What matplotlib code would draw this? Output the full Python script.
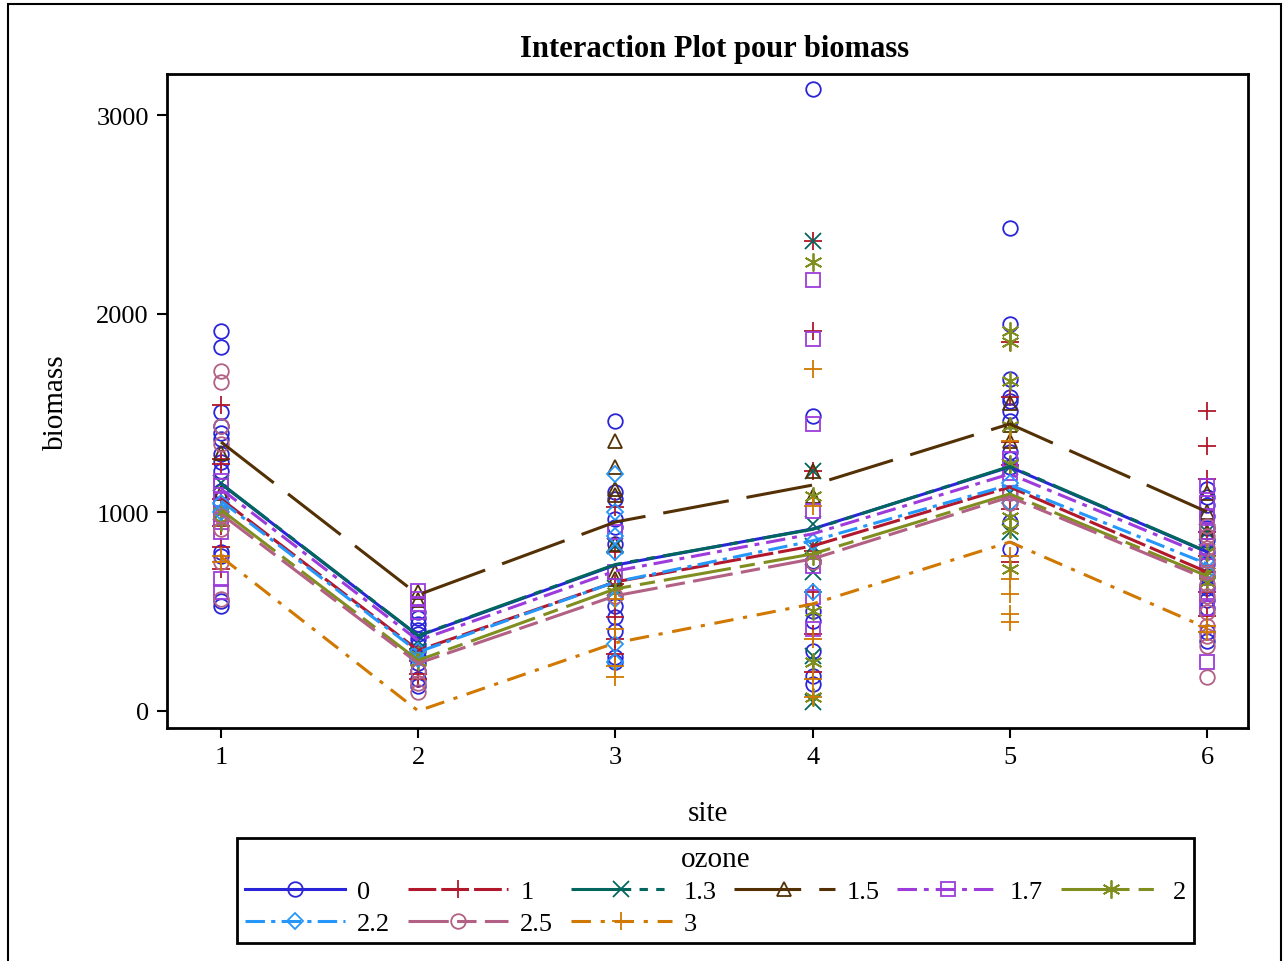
import numpy as np
import matplotlib
matplotlib.use("Agg")
from matplotlib import pyplot as plt
from matplotlib.patches import Rectangle

plt.rcParams['font.family'] = ['Liberation Serif', 'DejaVu Serif']
plt.rcParams['lines.scale_dashes'] = False

sites = [1, 2, 3, 4, 5, 6]
ozone = ["0", "1", "1.3", "1.5", "1.7", "2", "2.2", "2.5", "3"]

# raw observations, one list per site
obs_0 = [[1914, 1834, 1506, 1436, 1400, 1370, 1295, 1254, 1209, 1108, 801, 780, 554, 529],
         [499, 470, 440, 410, 390, 360, 330, 300, 270, 240, 200, 160, 126],
         [1461, 1103, 1068, 967, 927, 841, 529, 474, 403, 272, 247],
         [3134, 1486, 756, 504, 453, 302, 176, 136],
         [2433, 1950, 1672, 1582, 1562, 1511, 1461, 1305, 1270, 1230, 952, 816],
         [1120, 1080, 1040, 980, 920, 860, 800, 740, 680, 620, 560, 520, 400, 350]]
obs_1 = [[1541, 1270, 1244, 1068, 932, 826, 715],
         [312, 250, 186, 161],
         [1028, 801, 640, 474, 363, 287],
         [2368, 1914, 1209, 806, 600, 388, 196],
         [1859, 1580, 1355, 1240, 1018, 750],
         [1511, 1335, 1169, 900, 780, 700, 600, 480]]
obs_13 = [[1150, 1000], [350, 300], [830, 620],
          [2368, 1209, 942, 831, 700, 277, 45],
          [1230, 1100, 900], [900, 800]]
obs_15 = [[1300, 1100], [600, 560],
          [1360, 1229, 1118, 1090, 841, 700, 665],
          [1209, 1083], [1550, 1440, 1360], [1100, 1000, 900]]
obs_17 = [[1160, 1133, 1068, 1030, 990, 950, 902, 665, 600],
          [605, 564, 539, 500], [900, 700],
          [2171, 1874, 1446, 1008, 730, 574, 413],
          [1270, 1200, 1100],
          [1133, 1050, 980, 900, 800, 700, 600, 520, 247]]
obs_2 = [[1000, 950], [280, 250], [600],
         [2262, 1083, 781, 504, 247, 71],
         [1914, 1859, 1662, 1436, 1244, 977, 917, 715],
         [800, 700, 650]]
obs_22 = [[1050, 1000], [300, 260],
          [1194, 1002, 882, 801, 564, 338, 247],
          [850, 600], [1150, 1050], [760, 700]]
obs_25 = [[1713, 1657, 1436, 1345, 982, 917, 750, 564],
          [96, 140, 200], [580], [750], [1100, 1050],
          [932, 880, 820, 760, 700, 640, 580, 499, 428, 380, 328, 171]]
obs_3 = [[780, 750], [],
         [564, 413, 227, 171],
         [1723, 1033, 363, 161, 71],
         [1360, 781, 665, 589, 489, 448],
         [430, 400]]

# cell means (interaction lines)
mean_0 = [1144, 378, 735, 917, 1229, 801]
mean_1 = [1068, 305, 650, 831, 1128, 700]
mean_13 = [1146, 380, 738, 915, 1232, 803]
mean_15 = [1355, 585, 952, 1138, 1446, 1003]
mean_17 = [1118, 355, 705, 892, 1194, 781]
mean_2 = [1013, 255, 615, 791, 1093, 680]
mean_22 = [1058, 297, 650, 857, 1139, 741]
mean_25 = [992, 240, 580, 766, 1078, 665]
mean_3 = [776, 0, 343, 539, 851, 418]

all_obs = [obs_0, obs_1, obs_13, obs_15, obs_17, obs_2, obs_22, obs_25, obs_3]
all_means = [mean_0, mean_1, mean_13, mean_15, mean_17, mean_2, mean_22, mean_25, mean_3]

colors = ['#2A25D9', '#B2182B', '#01665E', '#543005', '#9D3CDB',
          '#7F8E1F', '#2597FA', '#B26084', '#D17800']
markers = ['o', '+', 'x', '^', 's', (6, 2, 0), 'D', 'o', '+']
msizes = [10.5, 13, 11, 10.5, 10, 13, 8.5, 10.5, 13]
styles = ['-', (0, (20, 3.6)), (0, (43, 6, 6, 6, 6, 6)), (0, (48, 13)),
          (0, (14, 5, 3.5, 5)), (0, (49, 6.5, 11, 6.5)), (0, (14, 4.5, 3, 4.5)),
          (0, (29, 6, 14, 6)), (0, (14, 7, 3, 7))]

fig = plt.figure(figsize=(12.85, 9.62), dpi=100)
ax = fig.add_axes([167/1285, 1 - 729/962, (1248-167)/1285, (729-75)/962])

for obs, col, mk, ms in zip(all_obs, colors, markers, msizes):
    for s, vals in zip(sites, obs):
        ax.plot([s] * len(vals), vals, linestyle='none', marker=mk, ms=ms,
                mfc='none', mec=col, mew=1.3)

handles = []
for lab, mean, col, mk, ms, ls in zip(ozone, all_means, colors, markers, msizes, styles):
    ax.plot(sites, mean, color=col, lw=2.2, linestyle=ls)
    h, = ax.plot([], [], color=col, lw=2.2, linestyle=ls, marker=mk, ms=ms,
                 mfc='none', mec=col, mew=1.3, label=lab)
    handles.append(h)

ax.set_xlim(0.726, 6.208)
ax.set_ylim(-86, 3209)
ax.set_xticks(sites)
ax.set_yticks([0, 1000, 2000, 3000])
ax.tick_params(direction='out', length=7, width=1.5, labelsize=19, pad=6)
for sp in ax.spines.values():
    sp.set_linewidth(2)
ax.set_xlabel('site', fontsize=21, labelpad=23)
ax.set_ylabel('biomass', fontsize=21, labelpad=20)

fig.text(715/1285, 1 - 50/962, 'Interaction Plot pour biomass', ha='center',
         va='center', fontsize=22, fontweight='bold')

order = [0, 6, 1, 7, 2, 8, 3, 4, 5]
leg = fig.legend([handles[i] for i in order], [ozone[i] for i in order],
                 loc='center', ncol=6, mode='expand', borderaxespad=0,
                 bbox_to_anchor=(237/1285, 1 - 941/962, 957/1285, 99/962),
                 title='ozone', fontsize=19, title_fontsize=21,
                 handlelength=3.8, handletextpad=0.45, labelspacing=0.3,
                 borderpad=0.3, fancybox=False, edgecolor='black', framealpha=1)
leg.get_frame().set_linewidth(2)

fig.add_artist(Rectangle((8/1285, -0.02), 1273/1285, 1.02 - 5/962, transform=fig.transFigure,
                         fill=False, edgecolor='black', lw=1.5))

fig.savefig('out.png', dpi=100)
